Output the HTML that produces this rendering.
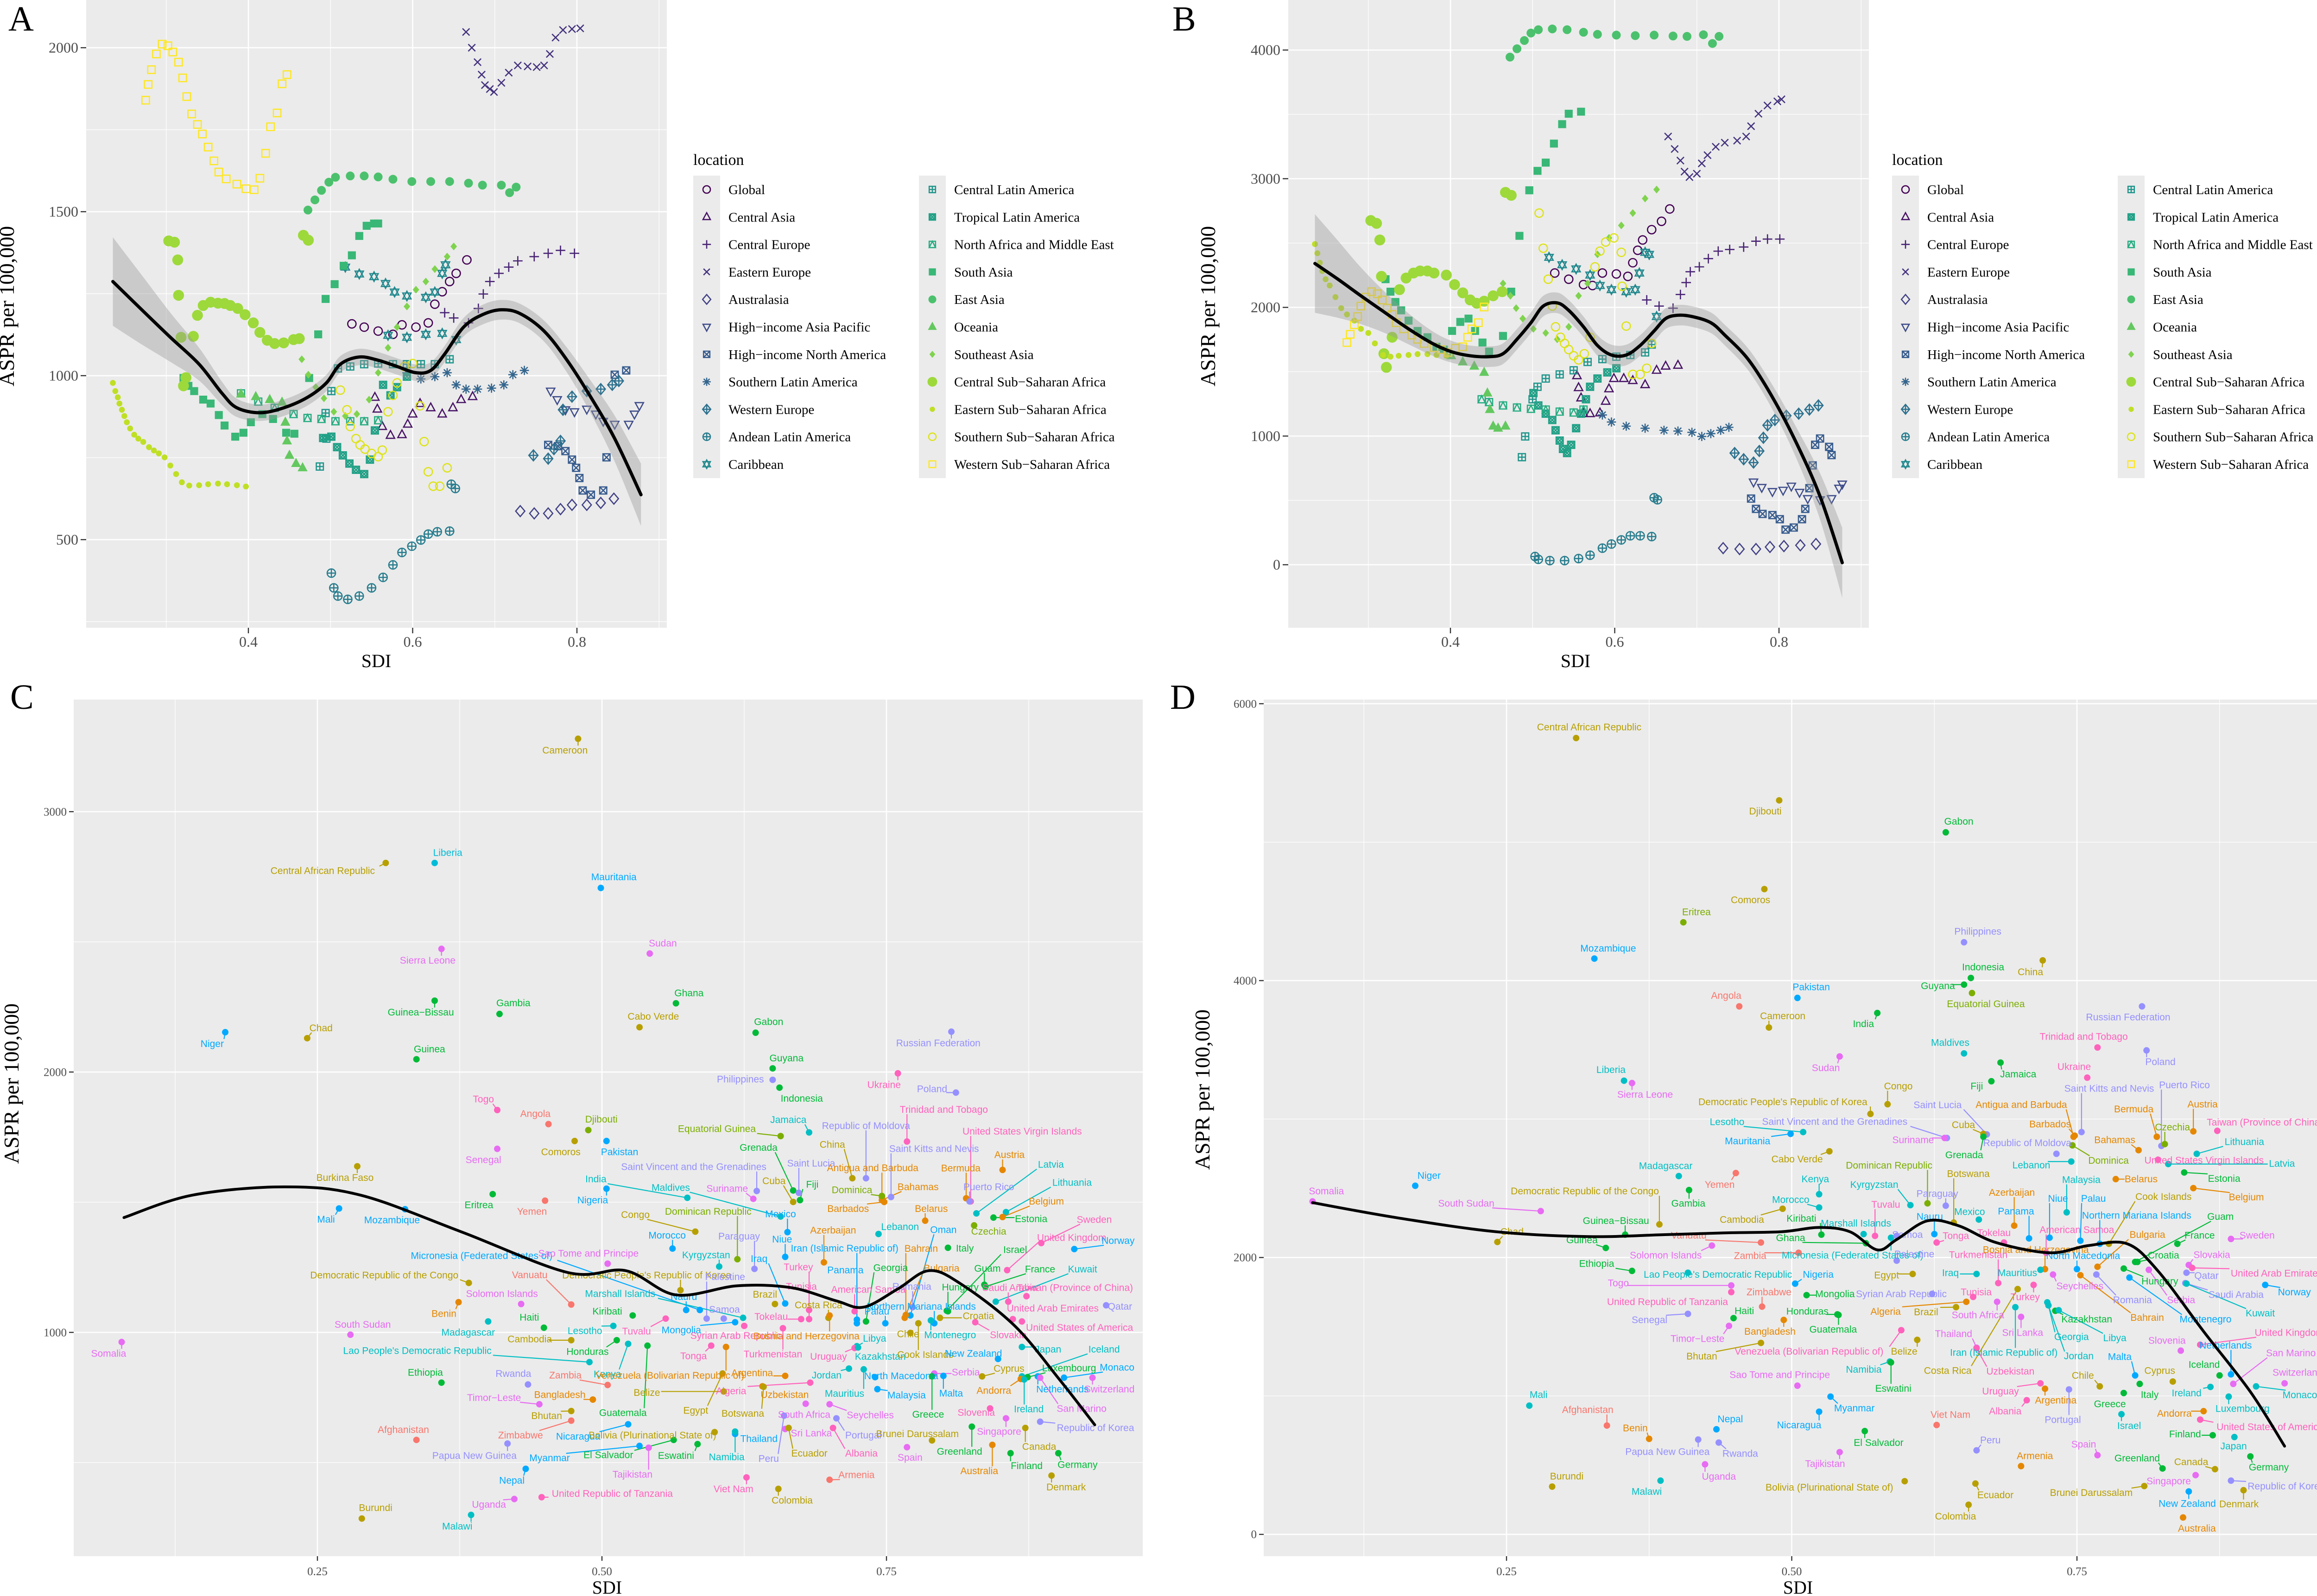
<!DOCTYPE html>
<html><head><meta charset="utf-8"><title>ASPR vs SDI</title>
<style>
html,body{margin:0;padding:0;background:#fff;}
svg{display:block;}
.serif{font-family:"Liberation Serif","DejaVu Serif",serif;}
.sans{font-family:"Liberation Sans","DejaVu Sans",sans-serif;}
</style></head>
<body>
<svg id="chart" width="5034" height="3445" viewBox="0 0 5034 3445" xmlns="http://www.w3.org/2000/svg">
<rect x="0" y="0" width="5034" height="3445" fill="#ffffff"/>
</svg>
<script>
// ===== Panel A/B regional data =====
const regionNames = ["Global","Central Asia","Central Europe","Eastern Europe","Australasia","High\u2212income Asia Pacific","High\u2212income North America","Southern Latin America","Western Europe","Andean Latin America","Caribbean","Central Latin America","Tropical Latin America","North Africa and Middle East","South Asia","East Asia","Oceania","Southeast Asia","Central Sub\u2212Saharan Africa","Eastern Sub\u2212Saharan Africa","Southern Sub\u2212Saharan Africa","Western Sub\u2212Saharan Africa"];

const panelA = [
[[0.526,1158],[0.541,1148],[0.558,1136],[0.576,1126],[0.587,1155],[0.604,1148],[0.619,1161],[0.627,1218],[0.636,1256],[0.645,1287],[0.653,1312],[0.666,1353]],
[[0.554,934],[0.557,898],[0.563,845],[0.573,818],[0.587,820],[0.594,852],[0.600,883],[0.609,915],[0.622,902],[0.636,883],[0.649,902],[0.659,927],[0.673,936]],
[[0.639,1192],[0.650,1176],[0.668,1161],[0.680,1205],[0.686,1249],[0.694,1287],[0.705,1312],[0.717,1331],[0.728,1350],[0.748,1363],[0.765,1373],[0.780,1382],[0.797,1373]],
[[0.665,2048],[0.672,2000],[0.679,1956],[0.684,1918],[0.688,1886],[0.694,1874],[0.699,1865],[0.708,1893],[0.717,1924],[0.728,1946],[0.740,1943],[0.751,1941],[0.760,1946],[0.767,1981],[0.774,2031],[0.783,2054],[0.794,2057],[0.804,2059]],
[[0.731,587],[0.748,580],[0.765,580],[0.780,593],[0.794,606],[0.812,606],[0.829,612],[0.845,625]],
[[0.768,953],[0.776,927],[0.786,896],[0.797,890],[0.812,898],[0.823,883],[0.832,861],[0.846,852],[0.863,852],[0.870,883],[0.876,909]],
[[0.765,789],[0.777,785],[0.786,770],[0.794,744],[0.799,719],[0.803,688],[0.807,650],[0.817,637],[0.832,650],[0.836,751],[0.846,1003],[0.860,1016]],
[[0.593,1009],[0.610,990],[0.627,997],[0.642,1009],[0.653,972],[0.665,959],[0.679,959],[0.696,962],[0.711,972],[0.722,1003],[0.736,1016]],
[[0.747,757],[0.765,747],[0.772,776],[0.780,801],[0.783,896],[0.794,936],[0.812,953],[0.829,959],[0.843,972],[0.851,984]],
[[0.501,398],[0.504,353],[0.509,328],[0.521,318],[0.535,328],[0.550,353],[0.564,385],[0.576,423],[0.587,461],[0.599,480],[0.610,499],[0.619,517],[0.630,524],[0.645,526],[0.647,669],[0.652,656]],
[[0.518,1331],[0.535,1310],[0.553,1302],[0.567,1281],[0.578,1255],[0.593,1243],[0.616,1239],[0.627,1255],[0.636,1312],[0.640,1338],[0.570,1123],[0.593,1117],[0.616,1126],[0.636,1129],[0.653,1110]],
[[0.487,723],[0.495,808],[0.494,886],[0.501,953],[0.509,1022],[0.524,1028],[0.541,1035],[0.558,1037],[0.576,1035],[0.593,1035],[0.610,1035],[0.627,1035],[0.645,1050]],
[[0.491,810],[0.501,814],[0.508,782],[0.515,757],[0.523,732],[0.531,713],[0.541,700],[0.548,744],[0.554,833],[0.564,972],[0.573,940],[0.581,965],[0.593,997]],
[[0.391,946],[0.412,921],[0.432,902],[0.455,883],[0.472,871],[0.489,868],[0.506,861],[0.524,861],[0.541,861],[0.558,864]],
[[0.321,993],[0.327,969],[0.334,953],[0.345,927],[0.354,915],[0.364,880],[0.371,848],[0.384,814],[0.394,826],[0.403,858],[0.417,883],[0.430,868],[0.446,826],[0.456,823],[0.474,993],[0.485,1126],[0.494,1234],[0.505,1279],[0.516,1335],[0.526,1367],[0.535,1426],[0.544,1457],[0.553,1464],[0.558,1464]],
[[0.4725,1505],[0.481,1536],[0.489,1565],[0.498,1590],[0.506,1605],[0.524,1609],[0.541,1609],[0.558,1606],[0.576,1599],[0.599,1592],[0.622,1592],[0.645,1592],[0.668,1587],[0.685,1581],[0.708,1581],[0.718,1558],[0.726,1575]],
[[0.391,944],[0.409,936],[0.426,927],[0.441,919],[0.445,858],[0.447,801],[0.450,757],[0.458,732],[0.466,719]],
[[0.465,1050],[0.473,1003],[0.482,965],[0.492,931],[0.504,890],[0.518,877],[0.532,883],[0.547,927],[0.558,1009],[0.570,1085],[0.581,1148],[0.593,1211],[0.604,1262],[0.616,1287],[0.627,1325],[0.642,1363],[0.650,1394]],
[[0.303,1411],[0.310,1407],[0.314,1353],[0.315,1245],[0.318,1117],[0.321,969],[0.324,994],[0.333,1120],[0.338,1184],[0.345,1214],[0.354,1224],[0.363,1221],[0.371,1220],[0.378,1214],[0.387,1205],[0.396,1186],[0.406,1161],[0.414,1132],[0.423,1108],[0.432,1098],[0.443,1100],[0.455,1110],[0.462,1113],[0.467,1428],[0.473,1413]],
[[0.235,978],[0.238,953],[0.241,934],[0.243,915],[0.246,896],[0.249,877],[0.252,858],[0.256,839],[0.261,820],[0.266,808],[0.272,798],[0.279,782],[0.285,772],[0.291,763],[0.298,751],[0.305,726],[0.312,700],[0.319,675],[0.328,665],[0.340,666],[0.351,669],[0.363,671],[0.374,669],[0.386,666],[0.397,662]],
[[0.512,956],[0.520,896],[0.524,845],[0.531,808],[0.536,789],[0.542,776],[0.550,763],[0.558,753],[0.563,773],[0.570,890],[0.576,940],[0.581,978],[0.590,1028],[0.600,1037],[0.609,908],[0.614,799],[0.619,707],[0.625,663],[0.633,663],[0.642,719]],
[[0.275,1840],[0.278,1888],[0.282,1933],[0.288,1981],[0.295,2011],[0.302,2006],[0.308,1987],[0.315,1956],[0.320,1908],[0.325,1851],[0.331,1798],[0.338,1766],[0.344,1737],[0.351,1697],[0.358,1655],[0.364,1621],[0.373,1600],[0.386,1584],[0.397,1570],[0.407,1567],[0.414,1602],[0.421,1678],[0.427,1759],[0.435,1801],[0.441,1890],[0.447,1918]]
];

const panelB = [
[[0.527,2267],[0.544,2219],[0.562,2177],[0.573,2170],[0.585,2267],[0.602,2260],[0.616,2241],[0.622,2347],[0.628,2444],[0.634,2524],[0.645,2604],[0.657,2669],[0.667,2765]],
[[0.554,1469],[0.556,1376],[0.559,1296],[0.562,1174],[0.570,1174],[0.582,1180],[0.589,1270],[0.593,1367],[0.599,1447],[0.611,1447],[0.622,1431],[0.637,1399],[0.651,1511],[0.662,1543],[0.677,1550]],
[[0.639,2058],[0.654,2010],[0.671,1994],[0.680,2100],[0.687,2193],[0.692,2277],[0.703,2315],[0.714,2379],[0.726,2437],[0.740,2450],[0.757,2469],[0.772,2514],[0.786,2531],[0.801,2531]],
[[0.665,3328],[0.673,3231],[0.680,3141],[0.685,3055],[0.691,3013],[0.700,3039],[0.706,3119],[0.713,3183],[0.723,3248],[0.734,3280],[0.749,3296],[0.760,3328],[0.766,3408],[0.775,3505],[0.786,3569],[0.798,3601],[0.803,3617]],
[[0.732,129],[0.752,122],[0.772,122],[0.789,138],[0.806,145],[0.826,151],[0.845,161]],
[[0.769,643],[0.779,601],[0.792,569],[0.805,579],[0.815,611],[0.825,563],[0.835,514],[0.850,505],[0.864,514],[0.873,595],[0.877,627]],
[[0.766,514],[0.772,434],[0.780,395],[0.792,386],[0.801,354],[0.808,273],[0.818,289],[0.828,354],[0.832,434],[0.837,595],[0.841,772],[0.844,932],[0.850,981],[0.861,916],[0.864,852]],
[[0.585,1164],[0.596,1109],[0.614,1077],[0.637,1061],[0.660,1045],[0.677,1039],[0.694,1029],[0.706,997],[0.717,1019],[0.729,1045],[0.739,1068]],
[[0.746,868],[0.757,820],[0.769,794],[0.776,884],[0.781,987],[0.786,1084],[0.795,1125],[0.809,1158],[0.824,1174],[0.837,1206],[0.848,1238]],
[[0.503,64],[0.507,42],[0.521,32],[0.539,32],[0.556,48],[0.570,74],[0.585,129],[0.596,161],[0.608,193],[0.619,225],[0.631,225],[0.645,219],[0.648,521],[0.652,505]],
[[0.520,2389],[0.536,2331],[0.553,2299],[0.570,2251],[0.582,2170],[0.596,2138],[0.614,2122],[0.625,2138],[0.630,2267],[0.637,2428],[0.642,2412],[0.651,1929]],
[[0.487,836],[0.491,997],[0.500,1286],[0.506,1383],[0.516,1447],[0.533,1479],[0.550,1511],[0.567,1576],[0.585,1598],[0.602,1617],[0.619,1630],[0.637,1650],[0.645,1711]],
[[0.501,1334],[0.507,1238],[0.516,1174],[0.524,1125],[0.528,1045],[0.533,965],[0.537,900],[0.542,868],[0.547,932],[0.553,1061],[0.559,1174],[0.565,1286],[0.570,1383],[0.579,1447],[0.591,1495],[0.602,1527]],
[[0.438,1286],[0.447,1264],[0.464,1238],[0.481,1222],[0.498,1212],[0.516,1206],[0.533,1190],[0.550,1183],[0.562,1206]],
[[0.321,2219],[0.327,2122],[0.333,2042],[0.340,1977],[0.349,1897],[0.360,1817],[0.372,1768],[0.383,1694],[0.392,1672],[0.402,1817],[0.412,1887],[0.422,1913],[0.430,1817],[0.439,1727],[0.447,1656],[0.464,1778],[0.474,2122],[0.484,2556],[0.496,2910],[0.506,3061],[0.516,3125],[0.526,3273],[0.536,3424],[0.544,3505],[0.559,3521]],
[[0.4725,3945],[0.481,4010],[0.490,4074],[0.498,4132],[0.507,4158],[0.524,4164],[0.542,4158],[0.562,4138],[0.579,4122],[0.602,4116],[0.625,4112],[0.648,4116],[0.671,4109],[0.688,4106],[0.708,4119],[0.719,4051],[0.727,4106]],
[[0.401,1624],[0.415,1576],[0.429,1543],[0.441,1495],[0.445,1334],[0.448,1206],[0.452,1077],[0.458,1061],[0.467,1077]],
[[0.464,2186],[0.473,2090],[0.480,1994],[0.488,1913],[0.501,1833],[0.516,1801],[0.530,1752],[0.544,1849],[0.556,2090],[0.567,2186],[0.579,2412],[0.593,2540],[0.608,2637],[0.622,2733],[0.637,2846],[0.651,2916]],
[[0.303,2675],[0.310,2653],[0.314,2524],[0.316,2241],[0.319,1640],[0.322,1534],[0.329,1768],[0.338,2138],[0.346,2228],[0.355,2267],[0.363,2283],[0.372,2283],[0.380,2267],[0.395,2251],[0.405,2177],[0.415,2113],[0.424,2058],[0.432,2032],[0.441,2048],[0.452,2090],[0.463,2122],[0.467,2894],[0.474,2871]],
[[0.235,2492],[0.238,2421],[0.241,2347],[0.244,2283],[0.248,2219],[0.253,2170],[0.260,2080],[0.267,1994],[0.274,1945],[0.283,1897],[0.291,1833],[0.300,1801],[0.308,1720],[0.318,1630],[0.327,1617],[0.337,1624],[0.349,1630],[0.360,1637],[0.372,1637],[0.383,1630],[0.395,1624]],
[[0.508,2733],[0.513,2460],[0.519,2219],[0.524,2010],[0.528,1849],[0.534,1768],[0.539,1720],[0.544,1672],[0.550,1624],[0.556,1592],[0.563,1640],[0.570,1768],[0.576,2315],[0.582,2437],[0.589,2508],[0.599,2540],[0.608,2428],[0.609,2164],[0.614,1855],[0.622,1479],[0.631,1479],[0.639,1527],[0.645,1720]],
[[0.274,1727],[0.278,1791],[0.283,1865],[0.287,1929],[0.291,2010],[0.297,2080],[0.304,2122],[0.311,2106],[0.317,2058],[0.323,1994],[0.329,1945],[0.334,1881],[0.343,1833],[0.353,1785],[0.360,1752],[0.368,1720],[0.380,1688],[0.389,1672],[0.397,1650],[0.406,1682],[0.415,1694],[0.421,1768],[0.426,1833],[0.434,1881],[0.441,2003]]
];

// LOESS fits (sdi, fitted aspr, standard-error half width)
const smoothA_sdi = [0.235,0.271,0.305,0.340,0.368,0.386,0.414,0.443,0.472,0.495,0.512,0.535,0.558,0.581,0.604,0.622,0.639,0.662,0.685,0.708,0.731,0.760,0.788,0.817,0.846,0.878];
const smoothA_fit = [1287,1199,1117,1035,946,902,887,902,934,978,1035,1057,1047,1028,1009,1016,1066,1148,1186,1201,1189,1136,1047,934,808,637];
const smoothA_se  = [135,105,75,50,35,28,25,25,25,25,25,25,25,25,25,25,25,28,30,30,30,32,38,50,70,95];
const smoothB_sdi = [0.235,0.263,0.291,0.320,0.349,0.378,0.401,0.424,0.447,0.464,0.481,0.498,0.513,0.530,0.544,0.562,0.579,0.596,0.614,0.631,0.648,0.662,0.677,0.694,0.717,0.734,0.763,0.792,0.821,0.850,0.877];
const smoothB_fit = [2341,2219,2090,1961,1833,1720,1656,1624,1617,1640,1752,1881,2010,2035,1977,1849,1704,1630,1630,1704,1817,1913,1939,1929,1881,1785,1592,1302,949,531,16];
const smoothB_se  = [383,300,220,160,120,95,85,80,80,80,80,80,80,80,80,80,80,80,80,80,80,80,80,80,80,80,85,95,120,180,273];

// ===== Panel C (country data) =====
const countriesC = [
["Cameroon",0.479,3280],["Central African Republic",0.310,2803],["Liberia",0.353,2803],["Mauritania",0.499,2707],["Sudan",0.542,2455],["Sierra Leone",0.359,2473],["Ghana",0.565,2264],["Guinea\u2212Bissau",0.353,2274],["Gambia",0.410,2223],["Cabo Verde",0.533,2172],
["Niger",0.169,2153],["Chad",0.241,2130],["Gabon",0.635,2151],["Guinea",0.337,2049],["Guyana",0.650,2014],["Philippines",0.650,1970],["Indonesia",0.656,1940],["Ukraine",0.760,1995],["Poland",0.811,1921],["Russian Federation",0.807,2155],
["Togo",0.408,1854],["Angola",0.453,1800],["Djibouti",0.488,1777],["Comoros",0.476,1735],["Pakistan",0.504,1735],["Senegal",0.408,1705],["Equatorial Guinea",0.657,1754],["Jamaica",0.682,1768],["Republic of Moldova",0.732,1592],["Trinidad and Tobago",0.768,1733],
["United States Virgin Islands",0.824,1503],["Grenada",0.668,1545],["China",0.720,1592],["Saint Kitts and Nevis",0.754,1520],["Burkina Faso",0.285,1638],["Saint Lucia",0.673,1536],["Saint Vincent and the Grenadines",0.636,1543],["Antigua and Barbuda",0.746,1520],["Austria",0.852,1624],["Bermuda",0.820,1515],
["Latvia",0.829,1457],["India",0.575,1517],["Cuba",0.668,1501],["Fiji",0.674,1508],["Maldives",0.657,1445],["Suriname",0.633,1513],["Bahamas",0.746,1508],["Puerto Rico",0.823,1503],["Lithuania",0.855,1462],["Eritrea",0.404,1531],
["Nigeria",0.504,1552],["Dominica",0.746,1524],["Mali",0.269,1476],["Mozambique",0.327,1473],["Yemen",0.450,1506],["Belgium",0.852,1443],["Barbados",0.748,1501],["Belarus",0.784,1429],["Estonia",0.844,1441],["Congo",0.582,1387],
["Dominican Republic",0.619,1281],["Mexico",0.663,1385],["Czechia",0.827,1411],["Sweden",0.886,1343],["Lebanon",0.743,1378],["Oman",0.771,1065],["Azerbaijan",0.695,1269],["Morocco",0.562,1322],["Paraguay",0.634,1244],["Niue",0.661,1290],
["United Kingdom",0.856,1239],["Norway",0.915,1320],["Iran (Islamic Republic of)",0.724,1035],["Bahrain",0.767,1067],["Italy",0.804,1325],["Israel",0.803,1083],["Micronesia (Federated States of)",0.586,1086],["Sao Tome and Principe",0.505,1264],["Kyrgyzstan",0.603,1253],["Iraq",0.661,1111],
["Democratic People's Republic of Korea",0.569,1162],["Palestine",0.592,1053],["Turkey",0.682,1051],["Panama",0.724,1049],["Georgia",0.732,1042],["Bulgaria",0.766,1056],["Guam",0.836,1183],["France",0.837,1176],["Kuwait",0.846,1118],["Democratic Republic of the Congo",0.383,1190],
["Vanuatu",0.473,1107],["Solomon Islands",0.429,1109],["Marshall Islands",0.624,1056],["Nauru",0.574,1086],["Tunisia",0.682,1086],["American Samoa",0.722,1081],["Romania",0.773,1097],["Hungary",0.804,1081],["Saudi Arabia",0.857,1118],["Taiwan (Province of China)",0.873,1139],
["Benin",0.374,1116],["Brazil",0.652,1109],["Costa Rica",0.699,1056],["Palau",0.749,1035],["Northern Mariana Islands",0.792,1035],["United Arab Emirates",0.861,1051],["Qatar",0.943,1104],["Haiti",0.449,1018],["Madagascar",0.400,1042],["South Sudan",0.279,991],
["Kiribati",0.527,1065],["Samoa",0.607,1053],["Tokelau",0.675,1051],["Croatia",0.797,1056],["Somalia",0.078,963],["Lesotho",0.510,1025],["Tuvalu",0.556,1053],["Mongolia",0.617,1039],["Syrian Arab Republic",0.625,1025],["Bosnia and Herzegovina",0.700,1065],
["Libya",0.724,947],["Chile",0.771,998],["Montenegro",0.789,1046],["Slovakia",0.828,1039],["United States of America",0.869,1042],["Cambodia",0.473,970],["Lao People's Democratic Republic",0.489,886],["Honduras",0.513,970],["Tonga",0.596,949],["Turkmenistan",0.659,1016],
["Uruguay",0.722,940],["Kazakhstan",0.725,942],["Cook Islands",0.778,1035],["New Zealand",0.848,898],["Japan",0.869,944],["Iceland",0.869,831],["Ethiopia",0.359,807],["Rwanda",0.435,800],["Zambia",0.505,798],["Kenya",0.523,956],
["Venezuela (Bolivarian Republic of)",0.609,944],["Argentina",0.661,833],["Jordan",0.717,861],["North Macedonia",0.740,828],["Serbia",0.792,842],["Cyprus",0.834,831],["Luxembourg",0.874,828],["Monaco",0.906,826],["Belize",0.607,773],["Algeria",0.683,807],
["Uzbekistan",0.641,793],["Mauritius",0.730,858],["Malaysia",0.742,782],["Malta",0.800,833],["Andorra",0.868,821],["Netherlands",0.883,831],["Switzerland",0.931,826],["Timor\u2212Leste",0.445,724],["Bangladesh",0.492,742],["Bhutan",0.473,698],
["Guatemala",0.540,949],["Egypt",0.606,842],["Botswana",0.642,791],["South Africa",0.679,726],["Seychelles",0.700,724],["Greece",0.790,831],["Slovenia",0.841,708],["Ireland",0.871,819],["San Marino",0.885,826],["Republic of Korea",0.885,657],
["Afghanistan",0.337,587],["Zimbabwe",0.473,661],["Nicaragua",0.523,647],["Bolivia (Plurinational State of)",0.599,617],["Thailand",0.617,610],["Sri Lanka",0.661,629],["Portugal",0.706,670],["Brunei Darussalam",0.790,585],["Singapore",0.855,670],["Papua New Guinea",0.417,573],
["Myanmar",0.533,564],["El Salvador",0.563,587],["Eswatini",0.584,571],["Namibia",0.617,619],["Peru",0.660,680],["Ecuador",0.664,633],["Albania",0.703,633],["Greenland",0.825,638],["Canada",0.872,633],["Spain",0.768,559],
["Australia",0.843,568],["Finland",0.859,536],["Germany",0.901,536],["Tajikistan",0.541,557],["Nepal",0.433,476],["Viet Nam",0.627,443],["Armenia",0.700,434],["Denmark",0.895,450],["Colombia",0.655,399],["United Republic of Tanzania",0.447,367],
["Uganda",0.423,360],["Burundi",0.289,285],["Malawi",0.385,299]
];
const smoothC_sdi = [0.080,0.140,0.221,0.288,0.376,0.470,0.521,0.565,0.619,0.666,0.706,0.730,0.760,0.787,0.814,0.862,0.902,0.933];
const smoothC_fit = [1441,1527,1559,1527,1387,1230,1237,1144,1179,1172,1121,1097,1167,1237,1190,1028,819,645];

// ===== Panel D (country data) =====
const countriesD = [
["Central African Republic",0.311,5752],["Djibouti",0.489,5302],["Gabon",0.635,5071],["Comoros",0.476,4661],["Eritrea",0.405,4421],["Mozambique",0.327,4159],["Philippines",0.651,4277],["China",0.720,4146],["Indonesia",0.657,4019],["Guyana",0.651,3971],
["Equatorial Guinea",0.658,3910],["Pakistan",0.505,3875],["Angola",0.454,3814],["Cameroon",0.480,3661],["India",0.575,3766],["Russian Federation",0.807,3814],["Trinidad and Tobago",0.768,3517],["Poland",0.811,3496],["Maldives",0.651,3474],["Sudan",0.542,3452],
["Jamaica",0.683,3408],["Ukraine",0.759,3299],["Fiji",0.675,3273],["Liberia",0.353,3277],["Sierra Leone",0.360,3260],["Saint Kitts and Nevis",0.754,2906],["Puerto Rico",0.824,2806],["Congo",0.584,3107],["Democratic People's Republic of Korea",0.569,3037],["Saint Lucia",0.671,2889],
["Antigua and Barbuda",0.747,2872],["Austria",0.852,2911],["Bermuda",0.820,2872],["Lesotho",0.510,2906],["Saint Vincent and the Grenadines",0.636,2863],["Cuba",0.668,2893],["Barbados",0.748,2880],["Taiwan (Province of China)",0.873,2915],["Czechia",0.827,2819],["Mauritania",0.499,2893],
["Suriname",0.634,2863],["Republic of Moldova",0.732,2749],["Bahamas",0.804,2775],["Lithuania",0.855,2749],["Grenada",0.668,2872],["Dominica",0.746,2810],["Lebanon",0.745,2693],["United States Virgin Islands",0.821,2706],["Latvia",0.830,2675],["Cabo Verde",0.533,2767],
["Dominican Republic",0.619,2391],["Madagascar",0.401,2588],["Yemen",0.451,2610],["Niger",0.170,2518],["Somalia",0.080,2405],["South Sudan",0.280,2335],["Estonia",0.844,2614],["Belarus",0.784,2566],["Malaysia",0.741,2326],["Kenya",0.524,2457],
["Botswana",0.642,2252],["Democratic Republic of the Congo",0.384,2239],["Gambia",0.410,2487],["Kyrgyzstan",0.604,2378],["Paraguay",0.635,2374],["Azerbaijan",0.695,2230],["Niue",0.726,2143],["Palau",0.753,2121],["Cook Islands",0.778,2099],["Belgium",0.852,2501],
["Morocco",0.524,2361],["Tuvalu",0.573,2156],["Mexico",0.664,2274],["Panama",0.708,2138],["Northern Mariana Islands",0.770,2099],["Guam",0.801,1968],["Chad",0.242,2112],["Guinea\u2212Bissau",0.354,2165],["Cambodia",0.492,2352],["Kiribati",0.526,2165],
["Marshall Islands",0.563,2169],["Nauru",0.625,2169],["American Samoa",0.723,2034],["Guinea",0.337,2069],["Vanuatu",0.473,2108],["Ghana",0.565,2103],["Samoa",0.592,2156],["Tonga",0.627,2108],["Tokelau",0.686,2108],["Bulgaria",0.768,1933],
["France",0.838,2099],["Sweden",0.885,2134],["Zambia",0.506,2034],["Micronesia (Federated States of)",0.587,2143],["Palestine",0.592,1977],["Turkmenistan",0.681,1815],["Bosnia and Herzegovina",0.722,1916],["North Macedonia",0.750,1916],["Croatia",0.803,1968],["Slovakia",0.848,1946],
["Solomon Islands",0.430,2086],["Ethiopia",0.360,1903],["Lao People's Democratic Republic",0.409,1890],["Nigeria",0.503,1811],["Egypt",0.606,1881],["Iraq",0.662,1881],["Mauritius",0.718,1911],["United Arab Emirates",0.851,1925],["Qatar",0.846,1890],["Hungary",0.791,1920],
["Togo",0.447,1798],["Zimbabwe",0.474,1645],["Mongolia",0.513,1728],["Syrian Arab Republic",0.623,1737],["Tunisia",0.659,1715],["Turkey",0.712,1802],["Seychelles",0.729,1877],["Norway",0.915,1802],["Saudi Arabia",0.845,1815],["Romania",0.767,1877],
["Serbia",0.813,1911],["United Republic of Tanzania",0.447,1750],["Haiti",0.449,1562],["Honduras",0.540,1589],["Algeria",0.653,1680],["Brazil",0.644,1641],["South Africa",0.680,1680],["Kazakhstan",0.731,1615],["Bahrain",0.753,1872],["Montenegro",0.796,1855],
["Kuwait",0.846,1811],["Senegal",0.409,1593],["Bangladesh",0.493,1549],["Guatemala",0.541,1585],["Thailand",0.662,1348],["Sri Lanka",0.701,1571],["Georgia",0.725,1654],["Libya",0.734,1619],["Slovenia",0.841,1327],["United Kingdom",0.858,1370],
["Timor\u2212Leste",0.445,1506],["Netherlands",0.885,1156],["Bhutan",0.473,1383],["Venezuela (Bolivarian Republic of)",0.596,1475],["Belize",0.610,1405],["Iran (Islamic Republic of)",0.696,1641],["Jordan",0.724,1676],["Malta",0.801,1148],["San Marino",0.887,1087],["Namibia",0.586,1248],
["Costa Rica",0.698,1772],["Uzbekistan",0.662,1344],["Cyprus",0.834,1104],["Iceland",0.875,1148],["Switzerland",0.932,1091],["Sao Tome and Principe",0.505,1074],["Eswatini",0.587,1242],["Chile",0.770,1069],["Uruguay",0.718,1091],["Argentina",0.722,1052],
["Portugal",0.743,1047],["Italy",0.805,1087],["Ireland",0.867,1065],["Monaco",0.907,1069],["Mali",0.270,930],["Myanmar",0.534,995],["Albania",0.706,969],["Greece",0.791,1021],["Luxembourg",0.883,995],["Andorra",0.861,890],
["United States of America",0.858,829],["Afghanistan",0.338,786],["Viet Nam",0.627,790],["Nicaragua",0.524,886],["Benin",0.375,690],["Nepal",0.434,759],["Israel",0.789,868],["Finland",0.869,716],["El Salvador",0.564,746],["Papua New Guinea",0.418,685],
["Rwanda",0.436,663],["Peru",0.662,607],["Spain",0.768,572],["Japan",0.888,703],["Armenia",0.701,493],["Greenland",0.825,476],["Canada",0.871,471],["Germany",0.902,563],["Tajikistan",0.542,594],["Uganda",0.424,506],
["Burundi",0.290,345],["Malawi",0.385,388],["Bolivia (Plurinational State of)",0.599,384],["Singapore",0.854,428],["Republic of Korea",0.885,388],["Ecuador",0.661,367],["Brunei Darussalam",0.809,349],["Denmark",0.896,319],["New Zealand",0.848,310],["Colombia",0.655,214],
["Australia",0.843,122]
];
const smoothD_sdi = [0.080,0.154,0.241,0.322,0.389,0.443,0.491,0.524,0.551,0.575,0.592,0.619,0.646,0.679,0.726,0.760,0.794,0.821,0.861,0.902,0.932];
const smoothD_fit = [2396,2287,2186,2151,2165,2178,2186,2217,2186,2055,2130,2265,2230,2108,2034,2086,2099,1903,1466,1030,637];

// ===== Styling (label colour code + repel offsets), same order as country data =====
const styleC = ["o,-17,19","o,-82,13","c,17,-17","b,17,-18","m,17,-17","m,-18,19","g,17,-17","g,-18,19","g,18,-18","o,18,-18",
"b,-17,19","o,18,-17","g,17,-18","g,17,-17","g,18,-17","l,-42,-1","g,29,18","p,-18,19","l,-31,-6","l,-17,19",
"p,-18,-18","r,-17,-17","y,17,-18","o,-18,18","b,17,18","m,-18,18","y,-83,-12","t,-27,-21","l,0,-87","p,48,-53",
"p,67,-116","g,-45,-71","o,-26,-56","l,56,-80","o,-16,19","l,16,-49","l,-82,-40","O,-12,-48","O,9,-25","O,-7,-50",
"t,97,-81","t,-119,-31","o,-25,-35","g,16,-26","t,-143,-48","m,-34,-17","O,47,-22","l,25,-24","t,86,-49","g,-18,18",
"b,-18,19","y,-39,-10","b,-17,18","b,-17,18","r,-17,18","O,57,-26","O,-47,11","O,8,-20","g,49,2","o,-78,-28",
"y,-38,-79","b,-9,-30","y,19,10","p,69,-39","t,28,-12","b,43,-142","O,12,-53","b,-7,-22","l,-20,-54","b,-4,-29",
"p,84,-54","b,57,-14","b,-16,-124","O,20,-110","g,22,1","g,89,-101","b,-284,-90","m,-25,-17","t,-17,-19","b,-34,-74",
"o,-44,-25","l,24,-69","p,-14,-86","b,-15,-82","g,32,-89","O,48,-82","g,4,-27","g,71,-29","t,113,-54","o,-110,-13",
"r,-54,-49","m,-25,-17","t,-160,-40","b,-3,-22","p,-10,-39","p,18,-36","l,-1,-34","g,16,-40","p,2,-23","p,63,-14",
"O,-19,19","o,-13,-16","o,-13,-21","b,-11,-20","b,-17,-28","p,52,-18","l,18,2","g,-19,-17","t,-26,18","m,16,-17",
"g,-33,-7","l,1,-15","p,-39,-4","o,50,-3","m,-17,19","t,-37,8","p,-38,21","b,-70,13","p,-11,16","O,-30,34",
"t,23,-13","o,-3,2","t,25,24","p,43,21","p,75,10","o,-54,-2","t,-224,-19","g,-38,19","p,-23,17","p,-13,43",
"p,-34,14","t,29,15","o,9,52","b,-32,-9","t,34,4","t,107,-45","g,-21,-17","l,-19,-18","r,-55,-16","t,-27,50",
"O,-73,47","O,-43,-5","t,-29,11","b,34,-2","m,41,-2","o,35,-13","g,54,-15","b,69,-17","o,-100,2","p,-103,14",
"O,29,14","t,-25,40","b,38,10","b,10,29","O,-35,19","b,32,21","m,22,19","m,-59,-11","O,-43,-8","o,-32,8",
"g,-32,111","o,-35,61","o,-27,44","m,-2,18","m,53,18","g,-5,63","p,-18,7","t,6,49","m,54,51","l,72,10",
"r,-17,-17","r,-66,24","b,-65,20","o,-81,5","b,31,8","m,34,7","l,35,28","o,-19,-11","m,-9,22","l,-43,20",
"b,-117,20","g,-85,25","g,-28,19","t,-11,42","l,-20,71","o,27,42","p,37,42","g,-16,41","o,18,31","m,4,17",
"O,-17,43","g,21,21","g,25,19","m,-21,44","b,-18,19","p,-17,19","r,35,-8","o,19,19","o,18,19","p,92,-6",
"m,-33,9","o,18,-18","t,-18,19"];
const styleD = ["o,17,-18","o,-18,18","g,17,-18","o,-18,18","y,17,-17","b,18,-17","l,18,-18","o,-16,19","g,16,-18","g,-34,2",
"y,18,18","b,18,-18","r,-17,-18","o,18,-19","g,-18,18","l,-18,18","p,-18,-18","l,18,19","t,-18,-18","m,-18,19",
"g,23,19","p,-17,-18","g,-19,8","t,-17,-18","m,17,19","l,36,-72","l,30,-101","o,14,-30","o,-114,-20","l,-64,-49",
"O,-68,-53","O,12,-45","O,-30,-46","t,-99,-17","l,-146,-27","o,-26,-15","O,-32,-19","p,62,-14","y,10,-28","b,-56,12",
"m,-41,3","l,-38,-18","O,-31,-17","t,62,-20","g,-25,30","y,47,25","t,-52,6","p,60,1","t,148,-1","o,-42,13",
"y,-50,-63","t,-17,-17","r,-21,19","b,18,-17","m,18,-17","m,-97,-13","g,52,10","O,33,0","t,19,-54","t,-5,-25",
"o,19,-81","o,-97,-55","g,-1,22","t,-47,-34","l,-11,-20","O,-3,-55","b,11,-65","b,17,-70","o,71,-78","O,69,15",
"t,-37,-13","p,14,-52","t,-12,-13","b,-17,-45","b,48,-47","g,111,-75","o,19,-17","g,-12,-23","o,-53,18","g,-26,-27",
"t,-10,-18","b,-6,-29","p,40,-38","g,-31,-13","r,-94,-12","g,-98,-9","l,14,-2","p,25,-11","p,-13,-16","O,65,-53",
"g,29,-14","m,34,-6","r,-63,5","t,-50,29","l,23,-11","p,-26,-47","O,-12,-32","b,8,-22","g,34,-11","m,30,-17",
"m,-60,16","g,-46,-12","t,39,3","b,30,-15","o,-34,2","t,-34,-2","t,-30,5","p,110,9","l,26,5","g,47,21",
"m,-147,-4","r,9,-24","g,37,-2","l,-40,0","p,4,-8","p,-11,20","m,35,19","b,38,12","l,66,19","l,47,42",
"m,42,50","p,-83,16","g,14,-12","g,-39,-5","O,-105,16","o,-39,8","m,-25,22","g,41,14","O,87,70","b,99,69",
"t,96,49","l,-50,10","O,-18,19","g,-7,24","m,-30,-23","m,2,26","t,30,52","t,73,46","m,-18,-17","p,116,-20",
"m,-41,21","b,-7,-48","o,-77,22","p,-120,35","o,-17,19","t,-15,75","t,41,89","b,-20,-31","m,75,-51","t,-34,13",
"o,-91,135","p,44,38","o,-17,-18","g,-20,-18","m,17,-18","m,-23,-18","g,3,43","o,-22,-18","p,-52,13","O,14,19",
"l,-8,50","g,13,18","t,-31,10","t,57,14","t,12,-18","b,31,19","p,-28,18","g,-18,18","t,18,20","O,-38,4",
"p,91,12","r,-25,-26","r,18,-17","b,-26,22","O,-18,-18","b,18,-17","t,10,19","g,-36,-2","g,18,19","l,-40,20",
"l,28,18","l,18,-17","m,-18,-18","t,-1,15","O,18,-17","g,-33,-17","o,-31,-12","g,24,18","m,-19,19","m,18,20",
"o,19,-17","t,-18,18","o,-98,10","m,-35,10","l,72,9","o,26,19","o,-69,11","o,-6,23","b,-2,20","o,-17,19",
"O,18,18"];

const palette = {o:"#B79F00",y:"#7CAE00",g:"#00BA38",t:"#00BFC4",c:"#00BCD8",b:"#00A9FF",l:"#9590FF",m:"#E76BF3",p:"#FF62BC",r:"#F8766D",O:"#E58700"};
const viridis = ["#440154","#471365","#482374","#45337E","#424186","#3E4C8A","#375B8D","#33658D","#2D718E","#287D8E","#23898E","#1F958B","#20A086","#27AC82","#39B776","#4BC16D","#63C85F","#7FD34E","#9DD93A","#BFDF25","#DDE318","#FDE725"];

// ===== Rendering =====
const NS = "http://www.w3.org/2000/svg";
const svg = document.getElementById("chart");
function el(tag, attrs, parent){
  const e = document.createElementNS(NS, tag);
  for (const k in attrs) e.setAttribute(k, attrs[k]);
  (parent||svg).appendChild(e);
  return e;
}
function txt(str, attrs, parent){
  const t = el("text", attrs, parent);
  t.textContent = str;
  return t;
}
// Catmull-Rom smoothed path through a list of [x,y]
function smoothPath(pts){
  if (pts.length < 2) return "";
  let d = `M${pts[0][0]},${pts[0][1]}`;
  for (let i=0;i<pts.length-1;i++){
    const p0 = pts[i-1]||pts[i], p1 = pts[i], p2 = pts[i+1], p3 = pts[i+2]||p2;
    const c1x = p1[0]+(p2[0]-p0[0])/6, c1y = p1[1]+(p2[1]-p0[1])/6;
    const c2x = p2[0]-(p3[0]-p1[0])/6, c2y = p2[1]-(p3[1]-p1[1])/6;
    d += `C${c1x},${c1y} ${c2x},${c2y} ${p2[0]},${p2[1]}`;
  }
  return d;
}

const P = {
  A:{x0:186,x1:1439,y0:0,y1:1355, sx:v=>536+(v-0.4)*1772.5, sy:v=>103+(2000-v)*0.7079},
  B:{x0:2780,x1:4033,y0:0,y1:1355, sx:v=>3130+(v-0.4)*1772.5, sy:v=>108+(4000-v)*0.27775},
  C:{x0:159,x1:2466,y0:1510,y1:3359, sx:v=>685+(v-0.25)*2456, sy:v=>1752+(3000-v)*0.562},
  D:{x0:2727,x1:5034,y0:1510,y1:3359, sx:v=>3251+(v-0.25)*2462, sy:v=>1519+(6000-v)*0.29883}
};

function drawPanel(key, cfg){
  const p = P[key];
  const g = el("g", {});
  
  
  const bg = el("rect", {x:p.x0, y:p.y0, width:p.x1-p.x0, height:p.y1-p.y0, fill:"#EBEBEB"}, g);
  
  
  cfg.yMinor.forEach(v=>{ const y=p.sy(v); const l=el("line",{x1:p.x0,x2:p.x1,y1:y,y2:y,stroke:"#fff","stroke-width":1.3},g);
     });
  cfg.xMinor.forEach(v=>{ const x=p.sx(v); const l=el("line",{x1:x,x2:x,y1:p.y0,y2:p.y1,stroke:"#fff","stroke-width":1.3},g);
     });
  cfg.yMajor.forEach((v,i)=>{ const y=p.sy(v);
    const l=el("line",{x1:p.x0,x2:p.x1,y1:y,y2:y,stroke:"#fff","stroke-width":2.6},g);
    
    const tk=el("line",{x1:p.x0-cfg.tick,x2:p.x0,y1:y,y2:y,stroke:"#333","stroke-width":2.4},g);
    
    const t=txt(cfg.yLabels[i],{x:p.x0-cfg.tick-5,y:y+cfg.fs*0.33,"text-anchor":"end","font-size":cfg.fs,fill:"#4D4D4D",class:"serif"},g);
     });
  cfg.xMajor.forEach((v,i)=>{ const x=p.sx(v);
    const l=el("line",{x1:x,x2:x,y1:p.y0,y2:p.y1,stroke:"#fff","stroke-width":2.6},g);
    
    const tk=el("line",{x1:x,x2:x,y1:p.y1,y2:p.y1+cfg.tick,stroke:"#333","stroke-width":2.4},g);
    
    const t=txt(cfg.xLabels[i],{x:x,y:cfg.xLabelY,"text-anchor":"middle","font-size":cfg.fs,fill:"#4D4D4D",class:"serif"},g);
     });
  const xt = txt("SDI",{x:cfg.sdiX,y:cfg.sdiY,"text-anchor":"middle","font-size":40,fill:"#000",class:"serif"},g);
  
  const yt = txt("ASPR per 100,000",{x:0,y:0,"text-anchor":"middle","font-size":46,fill:"#000",class:"serif",transform:`translate(${cfg.ylabX},${cfg.ylabY}) rotate(-90)`},g);
  
  const pl = txt(key,{x:cfg.letterX,y:cfg.letterY,"font-size":76,fill:"#000",class:"serif"},g);
  
  return g;
}

function markerPath(shape, x, y, s){
  const c=(r)=>`M${x-r},${y}a${r},${r} 0 1,0 ${2*r},0a${r},${r} 0 1,0 ${-2*r},0`;
  const sq=(h)=>`M${x-h},${y-h}h${2*h}v${2*h}h${-2*h}Z`;
  const plus=(h)=>`M${x-h},${y}h${2*h}M${x},${y-h}v${2*h}`;
  const cross=(h)=>`M${x-h},${y-h}l${2*h},${2*h}M${x-h},${y+h}l${2*h},${-2*h}`;
  const tri=(h)=>`M${x},${y-h*1.15}L${x+h},${y+h*0.7}L${x-h},${y+h*0.7}Z`;
  const dtri=(h)=>`M${x},${y+h*1.15}L${x+h},${y-h*0.7}L${x-h},${y-h*0.7}Z`;
  const dia=(h)=>`M${x},${y-h*1.3}L${x+h*1.1},${y}L${x},${y+h*1.3}L${x-h*1.1},${y}Z`;
  switch(shape){
    case 0: return [c(s),false];
    case 1: return [tri(s),false];
    case 2: return [plus(s*1.15),false];
    case 3: return [cross(s*0.85),false];
    case 4: return [dia(s),false];
    case 5: return [dtri(s),false];
    case 6: return [sq(s*0.85)+cross(s*0.85),false];
    case 7: return [plus(s*1.1)+cross(s*0.8),false];
    case 8: return [dia(s)+plus(s*1.05),false];
    case 9: return [c(s)+plus(s),false];
    case 10: return [tri(s)+dtri(s),false];
    case 11: return [sq(s*0.85)+plus(s*0.85),false];
    case 12: return [sq(s*0.85)+cross(s*0.85)+c(s*0.6),false];
    case 13: return [sq(s*0.85)+`M${x},${y-s*0.85}L${x+s*0.85},${y+s*0.85}L${x-s*0.85},${y+s*0.85}Z`,false];
    case 14: return [sq(s*0.9),true];
    case 15: return [c(s),true];
    case 16: return [tri(s*1.1),true];
    case 17: return [dia(s*0.65),true];
    case 18: return [c(s*1.25),true];
    case 19: return [c(s*0.65),true];
    case 20: return [c(s),false];
    case 21: return [sq(s*0.9),false];
  }
}
function drawMarker(parent, shape, x, y, col, s){
  const [d, filled] = markerPath(shape, x, y, s);
  return el("path", {d:d, fill: filled?col:"none", stroke: col, "stroke-width": filled?1:2.6}, parent);
}

function drawRegional(key, data, sdi, fit, se){
  const p = P[key];
  const g = el("g", {});
  
  
  data.forEach((pts, i)=>{
    const sg = el("g", {}, g);
    
    
    pts.forEach(pt=>{
      const m = drawMarker(sg, i, p.sx(pt[0]), p.sy(pt[1]), viridis[i], 9);
      
    });
  });
  const clampY = y=>Math.min(p.y1,Math.max(p.y0,y));
  const up = sdi.map((v,i)=>[p.sx(v), clampY(p.sy(fit[i]+se[i]))]);
  const lo = sdi.map((v,i)=>[p.sx(v), clampY(p.sy(fit[i]-se[i]))]).reverse();
  const ribD = smoothPath(up) + smoothPath(lo).replace(/^M/,"L") + "Z";
  const rib = el("path", {d: ribD, fill:"#999999", "fill-opacity":0.4}, g);
  
  const ln = el("path", {d: smoothPath(sdi.map((v,i)=>[p.sx(v), p.sy(fit[i])])), fill:"none", stroke:"#000", "stroke-width":7, "stroke-linejoin":"round","stroke-linecap":"round"}, g);
  
}

function drawLegend(x0){
  const g = el("g", {});
  
  
  const tt = txt("location", {x:x0, y:356, "font-size":34, fill:"#000", class:"serif"}, g);
  
  const colX = [x0, x0+487];
  colX.forEach(cx=>{
    const r = el("rect", {x:cx, y:379, width:58, height:653, fill:"#EBEBEB"}, g);
    
  });
  regionNames.forEach((nm, i)=>{
    const col = i < 11 ? 0 : 1;
    const row = i < 11 ? i : i-11;
    const cy = 409 + row*59.3;
    const cx = colX[col] + 29;
    const e = el("g", {}, g);
    
    
    drawMarker(e, i, cx, cy, viridis[i], 8);
    txt(nm, {x:colX[col]+76, y:cy+10, "font-size":29, fill:"#000", class:"serif"}, e);
  });
}

function drawCountries(key, rows, styles, sdi, fit){
  const p = P[key];
  const g = el("g", {});
  
  
  const segs = el("g", {}, g);
  
  const pts = el("g", {}, g);
  
  const labs = el("g", {}, g);
  
  rows.forEach((r, i)=>{
    const st = (styles[i]||"o,0,-18").split(",");
    const col = palette[st[0]] || "#888";
    const px = p.sx(r[1]), py = p.sy(r[2]);
    const lx = px + (+st[1])*1.658, ly = py + (+st[2])*1.304;
    const w = r[0].length*10.2, h = 20;
    const nx = Math.max(lx-w/2, Math.min(px, lx+w/2));
    const ny = Math.max(ly-h/2, Math.min(py, ly+h/2));
    if (Math.hypot(nx-px, ny-py) > 14){
      const s = el("line", {x1:px, y1:py, x2:nx, y2:ny, stroke:col, "stroke-width":2.2}, segs);
      
    }
    const c = el("circle", {cx:px, cy:py, r:7, fill:col}, pts);
    
    
    const t = txt(r[0], {x:lx, y:ly+7, "text-anchor":"middle", "font-size":21, fill:col, class:"sans"}, labs);
    
  });
  const ln = el("path", {d: smoothPath(sdi.map((v,i)=>[p.sx(v), p.sy(fit[i])])), fill:"none", stroke:"#000", "stroke-width":6, "stroke-linejoin":"round","stroke-linecap":"round"}, g);
  
}

drawPanel("A", {yMajor:[500,1000,1500,2000], yLabels:["500","1000","1500","2000"], yMinor:[250,750,1250,1750],
  xMajor:[0.4,0.6,0.8], xLabels:["0.4","0.6","0.8"], xMinor:[0.3,0.5,0.7,0.9], tick:12, fs:32,
  xLabelY:1396, sdiX:812, sdiY:1440, ylabX:30, ylabY:661, letterX:18, letterY:66});
drawRegional("A", panelA, smoothA_sdi, smoothA_fit, smoothA_se);
drawLegend(1496);

drawPanel("B", {yMajor:[0,1000,2000,3000,4000], yLabels:["0","1000","2000","3000","4000"], yMinor:[500,1500,2500,3500],
  xMajor:[0.4,0.6,0.8], xLabels:["0.4","0.6","0.8"], xMinor:[0.3,0.5,0.7,0.9], tick:12, fs:32,
  xLabelY:1396, sdiX:3400, sdiY:1440, ylabX:2622, ylabY:661, letterX:2530, letterY:66});
drawRegional("B", panelB, smoothB_sdi, smoothB_fit, smoothB_se);
drawLegend(4083);

drawPanel("C", {yMajor:[1000,2000,3000], yLabels:["1000","2000","3000"], yMinor:[500,1500,2500],
  xMajor:[0.25,0.5,0.75], xLabels:["0.25","0.50","0.75"], xMinor:[0.125,0.375,0.625,0.875], tick:10, fs:25,
  xLabelY:3400, sdiX:1310, sdiY:3440, ylabX:40, ylabY:2339, letterX:22, letterY:1530});
drawCountries("C", countriesC, styleC, smoothC_sdi, smoothC_fit);

drawPanel("D", {yMajor:[0,2000,4000,6000], yLabels:["0","2000","4000","6000"], yMinor:[1000,3000,5000],
  xMajor:[0.25,0.5,0.75], xLabels:["0.25","0.50","0.75"], xMinor:[0.125,0.375,0.625,0.875], tick:10, fs:25,
  xLabelY:3400, sdiX:3880, sdiY:3440, ylabX:2610, ylabY:2352, letterX:2525, letterY:1530});
drawCountries("D", countriesD, styleD, smoothD_sdi, smoothD_fit);
</script>
</body></html>
